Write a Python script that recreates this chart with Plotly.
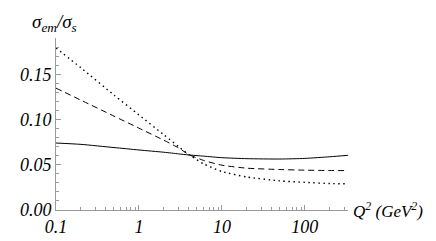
import plotly.graph_objects as go

q2 = [0.1, 0.2, 0.5, 1, 2, 3, 4, 6, 10, 20, 50, 100, 200, 330]
solid = [0.0740, 0.0725, 0.0690, 0.0663, 0.0638, 0.0620, 0.0608, 0.0595, 0.0578, 0.0567, 0.0563, 0.0570, 0.0588, 0.0604]
dashed = [0.1346, 0.1213, 0.1037, 0.0904, 0.0770, 0.0686, 0.0612, 0.0548, 0.0495, 0.0462, 0.0447, 0.0440, 0.0436, 0.0435]
dotted = [0.1790, 0.1570, 0.1270, 0.1050, 0.0830, 0.0700, 0.0612, 0.0510, 0.0425, 0.0365, 0.0322, 0.0305, 0.0292, 0.0290]

xtick_vals = [0.1, 1, 10, 100]
xtick_text = ["0.1", "1", "10", "100"]
ytick_vals = [0.0, 0.05, 0.10, 0.15]
ytick_text = ["0.00", "0.05", "0.10", "0.15"]

font_fam = "Liberation Serif"
axis_col = "#9a9a9a"

fig = go.Figure()
for ys, dash, w in [(solid, "solid", 1), (dashed, "6px,4px", 1), (dotted, "1.5px,3.5px", 1.4)]:
    fig.add_trace(go.Scatter(x=q2, y=ys, mode="lines",
                             line=dict(color="black", width=w, dash=dash, shape="spline", smoothing=0.6),
                             showlegend=False, hoverinfo="skip"))

fig.update_layout(
    width=436, height=241,
    margin=dict(l=40, r=96, t=30, b=25),
    plot_bgcolor="white", paper_bgcolor="white",
    font=dict(family=font_fam),
    xaxis=dict(type="log", range=[-1, 2.52], showgrid=False, zeroline=False,
               showline=True, linecolor=axis_col, linewidth=1,
               tickvals=xtick_vals, ticktext=["<i>%s</i>" % t for t in xtick_text],
               ticks="inside", ticklen=5, tickcolor=axis_col,
               tickfont=dict(family=font_fam, size=18, color="black"),
               minor=dict(ticks="inside", ticklen=3, tickcolor=axis_col, dtick="D1", showgrid=False)),
    yaxis=dict(range=[0, 0.19], showgrid=False, zeroline=False,
               showline=True, linecolor=axis_col, linewidth=1,
               tickvals=ytick_vals, ticktext=["<i>%s</i>" % t for t in ytick_text],
               ticks="inside", ticklen=5, tickcolor=axis_col,
               tickfont=dict(family=font_fam, size=18, color="black"),
               minor=dict(ticks="inside", ticklen=3, tickcolor=axis_col, dtick=0.01, tick0=0, showgrid=False)),
)

fig.add_annotation(xref="paper", yref="paper", x=0.0, y=1.0, yshift=15, xshift=-2,
                   text="<i>σ<sub>em</sub>/σ<sub>s</sub></i>", showarrow=False,
                   font=dict(family=font_fam, size=19, color="black"),
                   xanchor="center", yanchor="middle")
fig.add_annotation(xref="paper", yref="paper", x=1.0, y=0.0, xshift=3,
                   text="<i>Q<sup>2</sup> (GeV<sup>2</sup>)</i>", showarrow=False,
                   font=dict(family=font_fam, size=17, color="black"),
                   xanchor="left", yanchor="middle")

fig.write_html("out.html")
